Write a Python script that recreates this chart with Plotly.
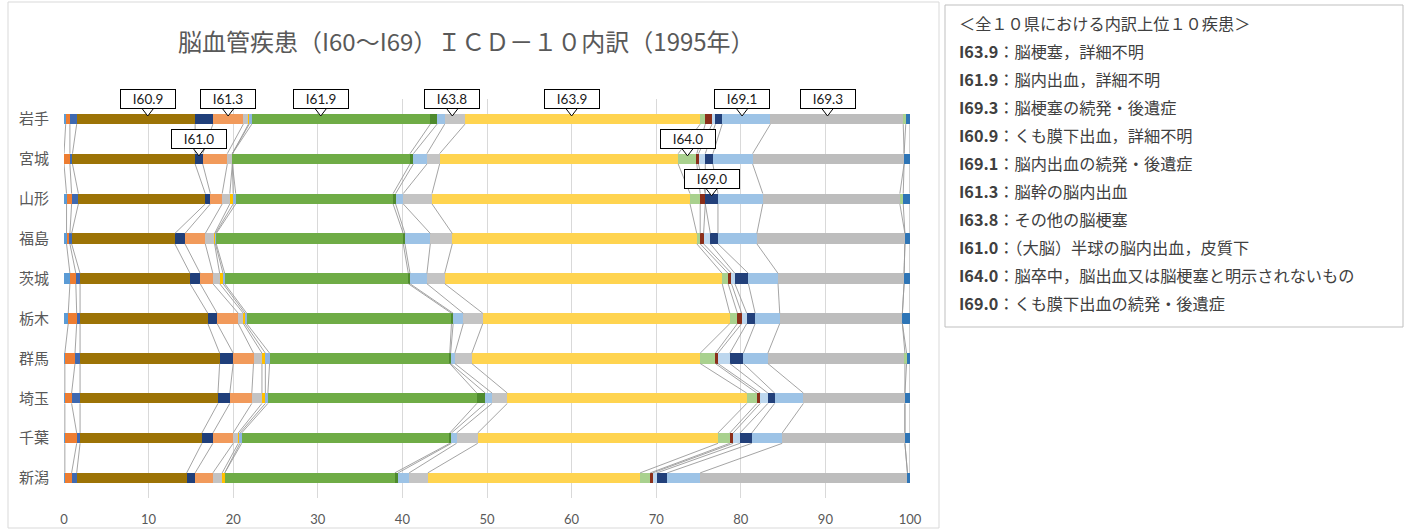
import plotly.graph_objects as go
from itertools import accumulate

# ---------------- data ----------------
prefectures = ["岩手", "宮城", "山形", "福島", "茨城", "栃木", "群馬", "埼玉", "千葉", "新潟"]

codes = ["I60.0", "I60.1", "I60.8", "I60.9", "I61.0", "I61.3", "I61.4", "I61.5", "I61.6",
         "I61.9", "I62.0", "I63.5", "I63.8", "I63.9", "I64.0", "I67.8", "I68.8", "I69.0",
         "I69.1", "I69.3", "I69.4", "I69.8"]

colors = ["#5B9BD5", "#ED7D31", "#3F69B0", "#9C7306", "#203F7A", "#F19A5B", "#C3C3C3", "#FFC000",
          "#8DB4E2", "#6FAC46", "#4E8A2E", "#9DC3E6", "#C4C4C4", "#FFD450", "#A9D18E", "#8B2F1A",
          "#BDD7EE", "#22407A", "#9DC3E6", "#BDBDBD", "#A9D18E", "#2E75B6"]

# share (%) of each code, per prefecture, in the order of `codes`
iwate     = [0.2, 0.5, 0.8, 14.0, 2.1, 3.6, 0.6, 0.1, 0.3, 21.1, 0.8, 0.9, 2.4, 27.8, 0.6, 0.8, 0.4, 0.8, 5.7, 15.7, 0.3, 0.5]
miyagi    = [0.0, 0.7, 0.3, 14.5, 0.9, 2.9, 0.6, 0.0, 0.0, 21.0, 0.4, 1.6, 1.5, 28.2, 2.2, 0.2, 0.8, 0.9, 4.7, 17.9, 0.0, 0.7]
yamagata  = [0.3, 0.6, 0.8, 15.0, 0.6, 1.4, 0.9, 0.4, 0.3, 18.6, 0.3, 0.9, 3.4, 30.5, 1.2, 0.6, 0.0, 1.5, 5.3, 16.2, 0.4, 0.8]
fukushima = [0.3, 0.4, 0.2, 12.2, 1.2, 2.4, 1.1, 0.1, 0.1, 22.1, 0.2, 3.0, 2.6, 28.9, 0.4, 0.4, 0.8, 0.9, 4.6, 17.5, 0.0, 0.6]
ibaraki   = [0.7, 0.7, 0.5, 13.0, 1.2, 1.5, 0.8, 0.4, 0.2, 21.7, 0.2, 2.0, 2.1, 32.8, 0.7, 0.4, 0.4, 1.6, 3.5, 14.9, 0.0, 0.7]
tochigi   = [0.5, 1.0, 0.4, 15.1, 1.1, 2.5, 0.6, 0.2, 0.2, 24.2, 0.2, 1.2, 2.3, 29.2, 0.9, 0.5, 0.6, 1.0, 2.9, 14.5, 0.0, 0.9]
gunma     = [0.1, 1.2, 0.6, 16.5, 1.6, 2.4, 1.0, 0.4, 0.5, 21.3, 0.1, 0.5, 2.0, 27.0, 1.8, 0.3, 1.4, 1.6, 2.9, 16.2, 0.2, 0.4]
saitama   = [0.1, 0.8, 1.0, 16.3, 1.4, 2.6, 1.2, 0.4, 0.3, 24.7, 1.0, 0.8, 1.8, 28.3, 1.2, 0.4, 0.9, 0.8, 3.4, 12.0, 0.0, 0.6]
chiba     = [0.1, 1.4, 0.4, 14.4, 1.3, 2.4, 0.6, 0.2, 0.2, 24.6, 0.2, 0.6, 2.5, 28.4, 1.4, 0.4, 0.8, 1.4, 3.6, 14.5, 0.0, 0.6]
niigata   = [0.1, 0.8, 0.6, 13.0, 1.0, 2.1, 1.1, 0.3, 0.0, 20.1, 0.4, 1.3, 2.2, 25.1, 1.2, 0.3, 0.5, 1.2, 3.9, 24.5, 0.0, 0.3]

rows = [iwate, miyagi, yamagata, fukushima, ibaraki, tochigi, gunma, saitama, chiba, niigata]

x_ticks = [0, 10, 20, 30, 40, 50, 60, 70, 80, 90, 100]

title_text = "脳血管疾患（I60～I69）ＩＣＤ－１０内訳（1995年）"

legend_title = "＜全１０県における内訳上位１０疾患＞"
legend_codes = ["I63.9", "I61.9", "I69.3", "I60.9", "I69.1", "I61.3", "I63.8", "I61.0", "I64.0", "I69.0"]
legend_names = ["脳梗塞，詳細不明", "脳内出血，詳細不明", "脳梗塞の続発・後遺症", "くも膜下出血，詳細不明",
                "脳内出血の続発・後遺症", "脳幹の脳内出血", "その他の脳梗塞", "（大脳）半球の脳内出血，皮質下",
                "脳卒中，脳出血又は脳梗塞と明示されないもの", "くも膜下出血の続発・後遺症"]

# callout labels: (code, prefecture index, nudge in axis units)
callouts = [("I60.9", 0, 1.4), ("I61.3", 0, 0.0), ("I61.9", 0, -2.4), ("I63.8", 0, -0.3),
            ("I63.9", 0, -1.3), ("I69.1", 0, -0.5), ("I69.3", 0, -1.1),
            ("I61.0", 1, 0.0), ("I64.0", 1, 0.0), ("I69.0", 2, 0.0)]

# ---------------- layout constants ----------------
W, H = 1409, 529
PL, PR, PT, PB = 64, 910, 99, 498
BAR_W = 0.26
LAT = "Lato, 'Open Sans', sans-serif"
JP = "'Noto Sans CJK JP', sans-serif"

fig = go.Figure()
ys = list(range(len(prefectures)))

for k, code in enumerate(codes):
    fig.add_trace(go.Bar(
        x=[r[k] for r in rows], y=ys, orientation="h", width=BAR_W,
        marker=dict(color=colors[k], line=dict(width=0)),
        name=code, hoverinfo="skip", showlegend=False))

# series lines between consecutive bars
cums = [list(accumulate(r)) for r in rows]
half = BAR_W / 2
lx, ly = [], []
for k in range(len(codes)):
    for i in range(len(rows) - 1):
        lx += [cums[i][k], cums[i + 1][k], None]
        ly += [i + half, i + 1 - half, None]
fig.add_trace(go.Scatter(x=lx, y=ly, mode="lines",
                         line=dict(color="#9A9A9A", width=0.9),
                         hoverinfo="skip", showlegend=False))

# callouts
tx, ty = [], []
for code, p, nudge in callouts:
    k = codes.index(code)
    mid = cums[p][k] - rows[p][k] / 2 + nudge
    tx.append(mid)
    ty.append(p - 0.2)
    fig.add_annotation(x=mid, y=p, text=code, showarrow=False, yshift=20,
                       bgcolor="white", bordercolor="#000000", borderwidth=1, borderpad=2,
                       width=50, height=14, font=dict(family=LAT, size=13.5, color="#1a1a1a"))
fig.add_trace(go.Scatter(x=tx, y=ty, mode="markers",
                         marker=dict(symbol="triangle-down", size=10, color="white",
                                     line=dict(color="#000000", width=1)),
                         hoverinfo="skip", showlegend=False))

# title
fig.add_annotation(x=466 / W, y=1 - 40 / H, xref="paper", yref="paper", text=title_text,
                   showarrow=False, xanchor="center", yanchor="middle",
                   font=dict(family=JP, size=24, color="#595959"))

# frames
fig.add_shape(type="rect", xref="paper", yref="paper",
              x0=945 / W, x1=1403 / W, y0=1 - 327 / H, y1=1 - 5 / H,
              line=dict(color="#BFBFBF", width=1), fillcolor="white", layer="below")
fig.add_shape(type="rect", xref="paper", yref="paper",
              x0=8 / W, x1=939 / W, y0=1 - 528 / H, y1=1 - 2 / H,
              line=dict(color="#D9D9D9", width=1), fillcolor="rgba(0,0,0,0)", layer="below")

legend_lines = [legend_title] + [f"<b>{c}</b>：{n}" for c, n in zip(legend_codes, legend_names)]
for j, txt in enumerate(legend_lines):
    fig.add_annotation(x=957 / W, y=1 - (23 + 28 * j) / H, xref="paper", yref="paper",
                       text=txt, showarrow=False, xanchor="left", yanchor="middle",
                       font=dict(family=JP, size=16.2, color="#404040"))

fig.update_layout(
    width=W, height=H, margin=dict(l=0, r=0, t=0, b=0, autoexpand=False),
    paper_bgcolor="white", plot_bgcolor="white",
    barmode="stack", bargap=0, showlegend=False,
    font=dict(family=JP),
    xaxis=dict(domain=[PL / W, PR / W], range=[0, 100], tickvals=x_ticks, automargin=False,
               showgrid=True, gridcolor="#D9D9D9", gridwidth=1, zeroline=False,
               showline=False, ticks="", ticklabelstandoff=12,
               tickfont=dict(family=LAT, size=13, color="#595959")),
    yaxis=dict(domain=[1 - PB / H, 1 - PT / H], range=[9.5, -0.5], tickvals=ys, automargin=False,
               ticktext=prefectures, showgrid=False, zeroline=False, showline=False,
               ticks="", ticklabelstandoff=14,
               tickfont=dict(family=JP, size=15, color="#595959")),
)

fig.write_html("out.html",
               post_script="document.body.style.margin='0';document.body.style.overflow='hidden';")
